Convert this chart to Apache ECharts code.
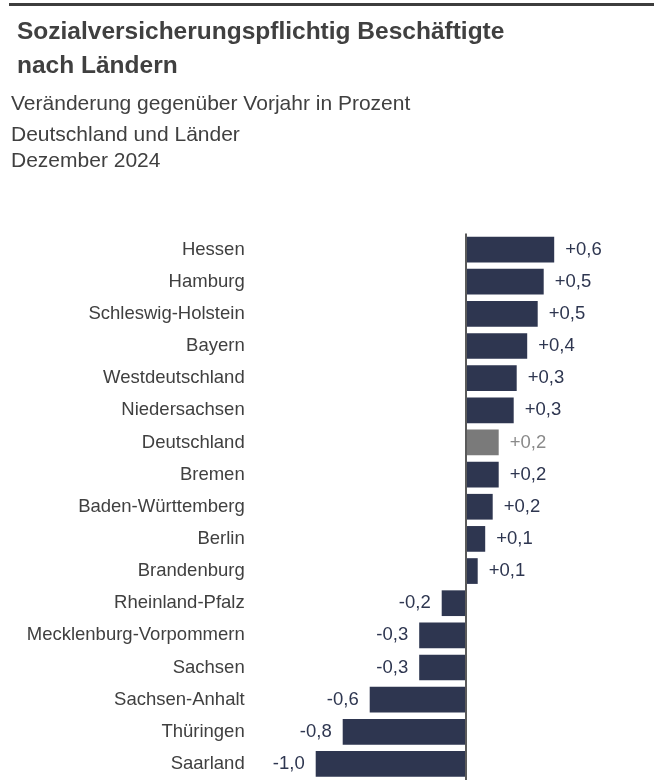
<!DOCTYPE html>
<html lang="de">
<head>
<meta charset="utf-8">
<title>Sozialversicherungspflichtig Beschäftigte nach Ländern</title>
<script src="https://cdn.jsdelivr.net/npm/echarts@6/dist/echarts.min.js"></script>
<style>
  html, body { margin: 0; padding: 0; background: #fff; }
  #chart { width: 654px; height: 780px; }
</style>
</head>
<body>
<div id="chart"></div>
<script>
// ---------- Daten (Veränderung gegenüber Vorjahr in %, Dez. 2024) ----------
const laender = [
  'Hessen', 'Hamburg', 'Schleswig-Holstein', 'Bayern', 'Westdeutschland',
  'Niedersachsen', 'Deutschland', 'Bremen', 'Baden-Württemberg', 'Berlin',
  'Brandenburg', 'Rheinland-Pfalz', 'Mecklenburg-Vorpommern', 'Sachsen',
  'Sachsen-Anhalt', 'Thüringen', 'Saarland'
];
const veraenderung = [
  0.59, 0.52, 0.48, 0.41, 0.34,
  0.32, 0.22, 0.22, 0.18, 0.13,
  0.08, -0.16, -0.31, -0.31,
  -0.64, -0.82, -1.0
];
// Gesamtwert wird grau hervorgehoben
const hervorgehoben = ['Deutschland'];

(function () {
  const FONT = '"Liberation Sans", Arial, sans-serif';
  const NAVY = '#2e3650';
  const GREY_BAR = '#7a7a7a';
  const GREY_LABEL = '#8a8a8a';
  const TEXT = '#404040';

  // Zahl im deutschen Format mit Vorzeichen
  function fmt(v) {
    const s = Math.abs(v).toFixed(1).replace('.', ',');
    return (v < 0 ? '-' : '+') + s;
  }

  const barData = veraenderung.map(function (v, i) {
    const grau = hervorgehoben.indexOf(laender[i]) !== -1;
    return {
      value: v,
      itemStyle: { color: grau ? GREY_BAR : NAVY },
      label: {
        position: v < 0 ? 'left' : 'right',
        color: grau ? GREY_LABEL : NAVY
      }
    };
  });

  const option = {
    backgroundColor: '#ffffff',
    animation: false,
    textStyle: { fontFamily: FONT },
    graphic: [
      // Linie oben
      { type: 'line', shape: { x1: 9, y1: 4.5, x2: 654, y2: 4.5 },
        style: { stroke: '#3d3d3d', lineWidth: 3 } },
      { type: 'text', left: 17, top: 20,
        style: { text: 'Sozialversicherungspflichtig Beschäftigte', font: 'bold 24.5px ' + FONT, fill: TEXT } },
      { type: 'text', left: 17, top: 54,
        style: { text: 'nach Ländern', font: 'bold 24.5px ' + FONT, fill: TEXT } },
      { type: 'text', left: 11, top: 93.5,
        style: { text: 'Veränderung gegenüber Vorjahr in Prozent', font: '21px ' + FONT, fill: TEXT } },
      { type: 'text', left: 11, top: 124.5,
        style: { text: 'Deutschland und Länder', font: '21px ' + FONT, fill: TEXT } },
      { type: 'text', left: 11, top: 150.5,
        style: { text: 'Dezember 2024', font: '21px ' + FONT, fill: TEXT } }
    ],
    grid: {
      left: 315.7,
      top: 233.5,
      width: 300,
      height: 552.5,
      containLabel: false
    },
    xAxis: {
      type: 'value',
      min: -1,
      max: 1,
      show: false
    },
    yAxis: {
      type: 'category',
      data: laender,
      inverse: true,
      axisLine: { show: false },
      axisTick: { show: false },
      splitLine: { show: false },
      axisLabel: {
        margin: 71,
        fontSize: 18.5,
        color: TEXT,
        fontFamily: FONT
      }
    },
    series: [
      {
        type: 'bar',
        barWidth: '80%',
        data: barData,
        label: {
          show: true,
          distance: 11,
          fontSize: 18.5,
          fontFamily: FONT,
          formatter: function (p) { return fmt(p.value); }
        },
        markLine: {
          silent: true,
          symbol: 'none',
          label: { show: false },
          lineStyle: { color: '#5a5a5a', width: 2, type: 'solid' },
          data: [{ xAxis: 0 }]
        }
      }
    ]
  };

  const myChart = echarts.init(document.getElementById('chart'));
  myChart.setOption(option);
})();
</script>
</body>
</html>
